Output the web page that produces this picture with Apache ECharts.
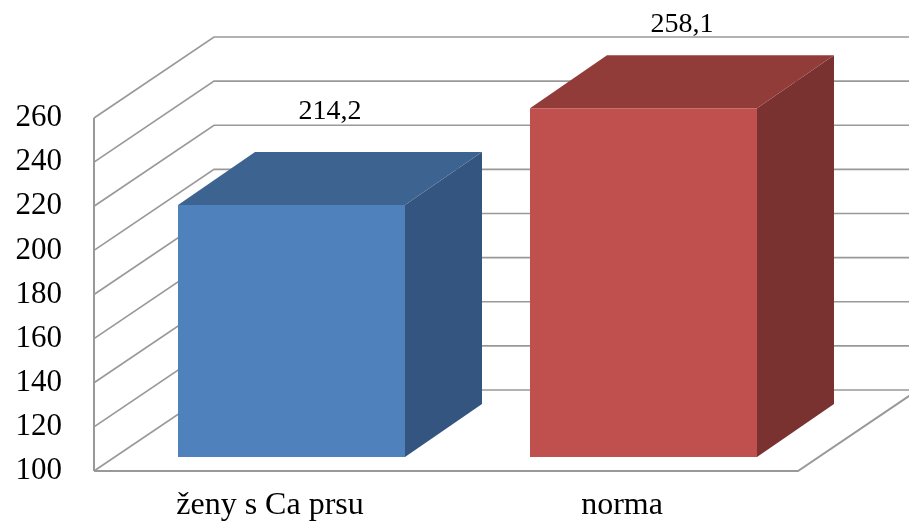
<!DOCTYPE html>
<html>
<head>
<meta charset="utf-8">
<script src="https://cdn.jsdelivr.net/npm/echarts@6/dist/echarts.min.js"></script>
<style>
html,body{margin:0;padding:0;background:#fff;}
#chart{width:909px;height:522px;}
</style>
</head>
<body>
<div id="chart"></div>
<script>
// ---- data ----
const categories = ['ženy s Ca prsu', 'norma'];
const values = [214.2, 258.1];
const valueLabels = ['214,2', '258,1'];
const yTicks = [100, 120, 140, 160, 180, 200, 220, 240, 260];

// ---- styles ----
const frontColors = ['#4F81BD', '#C0504D'];
const topColors = ['#3D6490', '#923C3A'];
const sideColors = ['#34557F', '#7A3230'];
const gridColor = '#999999';
const FONT = 'Liberation Serif, Times New Roman, serif';

// wall depth vector (px)
const DX = 120, DY = -81;

const chart = echarts.init(document.getElementById('chart'), null, {renderer: 'canvas'});

function wallItem(params, api) {
  const t = api.value(1);
  const band = api.size([1, 0])[0];
  const p0 = api.coord([0, t]);
  const p1 = api.coord([categories.length - 1, t]);
  const left = p0[0] - band / 2;
  const right = p1[0] + band / 2;
  const y = p0[1];
  const children = [{
    type: 'polyline',
    shape: {points: [[left, y], [left + DX, y + DY], [right + DX + 40, y + DY]]},
    style: {stroke: gridColor, lineWidth: 1.7, fill: null}
  }];
  if (t === yTicks[0]) {
    children.push({
      type: 'polyline',
      shape: {points: [[left, y], [right, y], [right + DX, y + DY]]},
      style: {stroke: gridColor, lineWidth: 2, fill: null}
    });
    children.push({
      type: 'line',
      shape: {x1: left, y1: y, x2: left, y2: api.coord([0, yTicks[yTicks.length - 1]])[1]},
      style: {stroke: gridColor, lineWidth: 2}
    });
  }
  return {type: 'group', children: children};
}

function barItem(params, api) {
  const idx = api.value(0);
  const v = api.value(1);
  const base = api.coord([idx, yTicks[0]]);
  const top = api.coord([idx, v]);
  const band = api.size([1, 0])[0];
  const k = band / 352;
  const fx = 21.5 * k, fy = -14 * k;      // front face offset into depth
  const dx = 77 * k, dy = -53 * k;        // bar depth
  const hw = 113.5 * k;
  const L = base[0] + fx - hw, R = base[0] + fx + hw;
  const yb = base[1] + fy, yt = top[1] + fy;
  const i = params.dataIndex;
  let ly = yt + dy - 40;
  if (ly < 25) ly = 25;
  return {
    type: 'group',
    children: [
      {type: 'polygon', shape: {points: [[R, yt], [R + dx, yt + dy], [R + dx, yb + dy], [R, yb]]},
        style: {fill: sideColors[i]}},
      {type: 'polygon', shape: {points: [[L, yt], [R, yt], [R + dx, yt + dy], [L + dx, yt + dy]]},
        style: {fill: topColors[i]}},
      {type: 'rect', shape: {x: L, y: yt, width: R - L, height: yb - yt},
        style: {fill: frontColors[i]}},
      {type: 'text', x: (L + R + dx) / 2, y: ly,
        style: {text: valueLabels[i], font: '28px ' + FONT, fill: '#000',
          align: 'center', verticalAlign: 'middle'}}
    ]
  };
}

chart.setOption({
  animation: false,
  grid: {left: 94, right: 111, top: 118, bottom: 51, containLabel: false},
  xAxis: {
    type: 'category',
    data: categories,
    axisLine: {show: false},
    axisTick: {show: false},
    axisLabel: {fontFamily: FONT, fontSize: 32, color: '#000', margin: 19}
  },
  yAxis: {
    type: 'value',
    min: 100, max: 260, interval: 20,
    axisLine: {show: false},
    axisTick: {show: false},
    splitLine: {show: false},
    axisLabel: {fontFamily: FONT, fontSize: 31, color: '#000', margin: 32}
  },
  series: [
    {type: 'custom', renderItem: wallItem, data: yTicks.map(t => [0, t]),
      encode: {x: 0, y: 1}, z: 1, silent: true, clip: false},
    {type: 'custom', renderItem: barItem, data: values.map((v, i) => [i, v]),
      encode: {x: 0, y: 1}, z: 2, silent: true, clip: false}
  ]
});
</script>
</body>
</html>
